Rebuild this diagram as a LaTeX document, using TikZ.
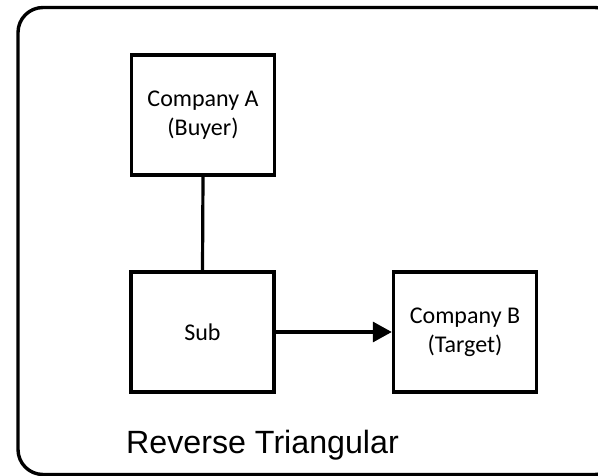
\documentclass[tikz,border=0pt]{standalone}
\usepackage{fontspec}
\setmainfont{Carlito}
\newfontfamily\labelfont{Liberation Sans}
\usetikzlibrary{arrows.meta}
\begin{document}
\begin{tikzpicture}[x=1pt,y=-1pt,
  entity/.style={draw, line width=3.4pt, minimum width=143pt, minimum height=120pt,
    inner sep=0pt, align=center, font=\fontsize{24}{29}\selectfont},
  link/.style={line width=3.2pt},
  flow/.style={line width=3.2pt, -{Triangle[length=19pt,width=20pt]}}]
\useasboundingbox (0,0) rectangle (598,476);
\clip (0,0) rectangle (598,476);
% outer frame
\draw[line width=3.4pt, rounded corners=25pt] (18,7.5) rectangle (620,474.5);
% parties
\node[entity] (buyer) at (203,115) {Company A\\(Buyer)};
\node[entity] (sub) at (202.5,332) {Sub};
\node[entity] (target) at (465,332) {Company B\\(Target)};
% connections
\draw[link] (buyer.south) -- (sub.north);
\draw[flow] (sub.east) -- (target.west);
% caption
\node[anchor=base west, inner sep=0pt, font=\labelfont\fontsize{32.2}{36}\selectfont] (title) at (126,453) {Reverse Triangular};
\end{tikzpicture}
\end{document}
